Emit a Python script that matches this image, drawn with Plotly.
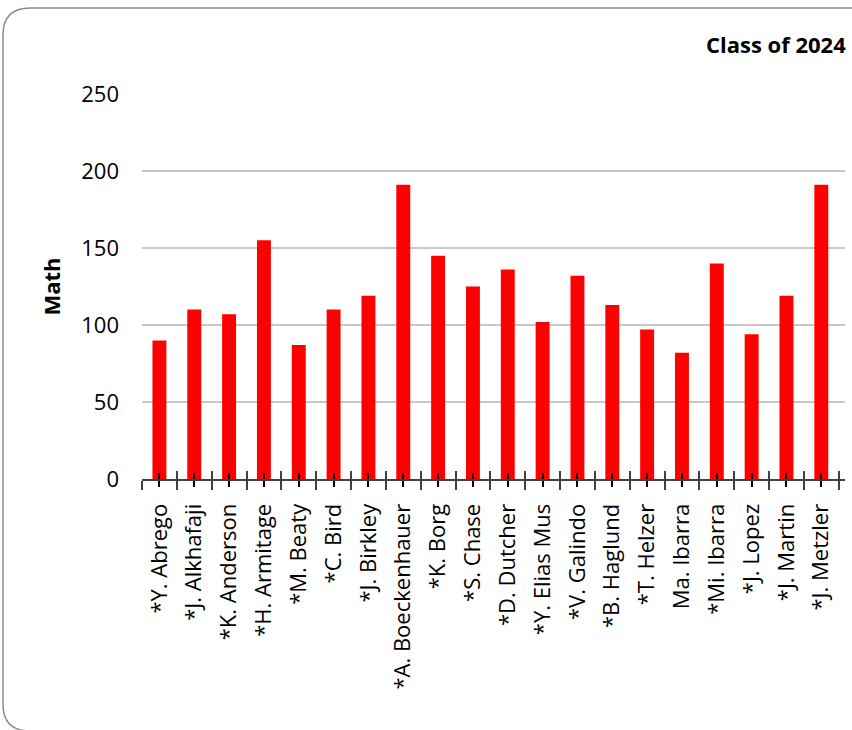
import plotly.graph_objects as go

names = ["*Y. Abrego", "*J. Alkhafaji", "*K. Anderson", "*H. Armitage", "*M. Beaty",
         "*C. Bird", "*J. Birkley", "*A. Boeckenhauer", "*K. Borg", "*S. Chase",
         "*D. Dutcher", "*Y. Elias Mus", "*V. Galindo", "*B. Haglund", "*T. Helzer",
         "Ma. Ibarra", "*Mi. Ibarra", "*J. Lopez", "*J. Martin", "*J. Metzler"]
math = [90, 110, 107, 155, 87, 110, 119, 191, 145, 125,
        136, 102, 132, 113, 97, 82, 140, 94, 119, 191]
y_ticks = [0, 50, 100, 150, 200, 250]
title_text = "Class of 2024"
y_title = "Math"

W, H = 852, 730
ML, MR, MT, MB = 142, 7, 94, 251
PW = W - ML - MR
PH = H - MT - MB

FONT = "Open Sans"

positions = list(range(len(names)))
boundaries = [i - 0.5 for i in range(len(names) + 1)]

fig = go.Figure()
fig.add_trace(go.Bar(x=positions, y=math, marker=dict(color="#FF0000", line=dict(width=0)),
                     width=0.4, showlegend=False, hoverinfo="skip"))


def px_x(p):
    return (p - ML) / PW


def px_y(p):
    return (H - MB - p) / PH


# rounded chart border (extends past right edge like the reference)
x0, y0, x1, y1, r = 3, 8, 1000, 731, 27
path = (f"M {px_x(x0)},{px_y(y0 + r)} Q {px_x(x0)},{px_y(y0)} {px_x(x0 + r)},{px_y(y0)} "
        f"L {px_x(x1)},{px_y(y0)} L {px_x(x1)},{px_y(y1)} L {px_x(x0 + r)},{px_y(y1)} "
        f"Q {px_x(x0)},{px_y(y1)} {px_x(x0)},{px_y(y1 - r)} Z")

fig.update_layout(
    width=W, height=H,
    margin=dict(l=ML, r=MR, t=MT, b=MB, autoexpand=False),
    paper_bgcolor="white", plot_bgcolor="white",
    font=dict(family=FONT, color="black", size=22),
    bargap=0.6,
    title=dict(text=title_text, xref="container", yref="container",
               x=706 / W, xanchor="left", y=1 - 45 / H, yanchor="middle",
               font=dict(family=FONT, size=22, weight="bold", color="black")),
    xaxis=dict(
        range=[-0.5, 19.68], tickmode="array", tickvals=positions, ticktext=names,
        tickangle=-90, ticks="outside", ticklen=6, tickwidth=1.5, tickcolor="black",
        ticklabelstandoff=8,
        minor=dict(tickmode="array", tickvals=boundaries, ticks="outside", ticklen=9,
                   tickwidth=1.5, tickcolor="#404040", showgrid=False),
        showline=True, linecolor="#404040", linewidth=2, showgrid=False, zeroline=False,
        tickfont=dict(family=FONT, size=22, color="black"), fixedrange=True,
    ),
    xaxis2=dict(
        overlaying="x", matches="x", anchor="y", side="bottom",
        tickmode="array", tickvals=positions, ticks="inside", ticklen=6, tickwidth=1.5,
        tickcolor="black", showticklabels=False,
        minor=dict(tickmode="array", tickvals=boundaries, ticks="inside", ticklen=8,
                   tickwidth=1.5, tickcolor="#404040", showgrid=False),
        showline=False, showgrid=False, zeroline=False,
    ),
    yaxis=dict(
        range=[0, 250], tickmode="array", tickvals=y_ticks, ticks="",
        ticklabelstandoff=22, showline=False, zeroline=False,
        showgrid=True, gridcolor="#C8C8C8", gridwidth=1.5,
        tickfont=dict(family=FONT, size=22, color="black"),
        title=dict(text=y_title, standoff=14,
                   font=dict(family=FONT, size=22, weight="bold", color="black")),
        fixedrange=True,
    ),
    shapes=[dict(type="path", xref="paper", yref="paper", path=path,
                 line=dict(color="#8C8C8C", width=1.5), fillcolor="rgba(0,0,0,0)",
                 layer="below")],
)
fig.add_trace(go.Scatter(x=[], y=[], xaxis="x2", yaxis="y", showlegend=False))

fig.write_html("out.html", config=dict(displayModeBar=False),
               post_script="document.body.style.margin='0';document.body.style.overflow='hidden';")
